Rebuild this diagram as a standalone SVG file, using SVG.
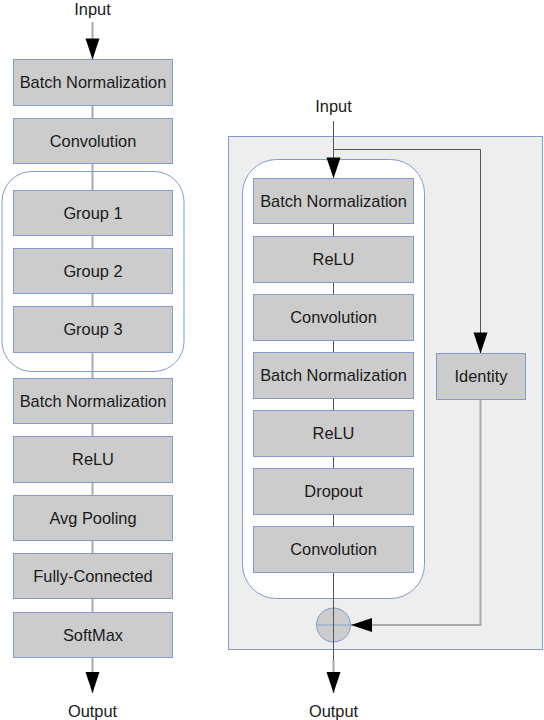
<svg xmlns="http://www.w3.org/2000/svg" width="544" height="720" viewBox="0 0 544 720">
<style>
.box{fill:#cccccc;stroke:#7f9ccb;stroke-width:1}
.cont{fill:#ffffff;stroke:#7f9ccb;stroke-width:1}
.panel{fill:#eeeeee;stroke:#7f9ccb;stroke-width:1}
.t{font-family:"Liberation Sans",Arial,sans-serif;font-size:16.4px;fill:#1a1a1a;text-anchor:middle}
.lg{fill:none;stroke:#aaaaaa;stroke-width:2}
.dk{fill:none;stroke:#555555;stroke-width:1}
</style>
<defs>
<marker id="ah" markerUnits="userSpaceOnUse" markerWidth="21" markerHeight="15" viewBox="0 0 21 15" refX="21" refY="7.5" orient="auto" overflow="visible">
<path d="M0,0.5 L21,7.5 L0,14.5 z" fill="#000000"/>
</marker>
</defs>
<rect class="panel" x="228.5" y="136.5" width="314" height="513"/>
<g id="groups-container"><rect class="cont" x="2" y="171.5" width="182" height="200" rx="30" ry="30"/></g>
<g id="block-container"><rect class="cont" x="242.5" y="159.5" width="182" height="439" rx="34" ry="34"/></g>
<g id="connectors">
<line class="lg" x1="92.5" y1="22" x2="92.5" y2="59.5" marker-end="url(#ah)"/>
<line class="lg" x1="92.5" y1="105" x2="92.5" y2="118"/>
<line class="lg" x1="92.5" y1="164" x2="92.5" y2="190"/>
<line class="lg" x1="92.5" y1="235" x2="92.5" y2="248"/>
<line class="lg" x1="92.5" y1="294" x2="92.5" y2="306"/>
<line class="lg" x1="92.5" y1="352" x2="92.5" y2="378"/>
<line class="lg" x1="92.5" y1="424" x2="92.5" y2="437"/>
<line class="lg" x1="92.5" y1="482" x2="92.5" y2="496"/>
<line class="lg" x1="92.5" y1="540" x2="92.5" y2="553"/>
<line class="lg" x1="92.5" y1="599" x2="92.5" y2="612"/>
<line class="lg" x1="92.5" y1="657" x2="92.5" y2="693" marker-end="url(#ah)"/>
<line class="dk" x1="333.5" y1="121" x2="333.5" y2="178.5" marker-end="url(#ah)"/>
<polyline class="dk" points="333.5,149.5 480.5,149.5 480.5,353.5" marker-end="url(#ah)"/>
<polyline class="lg" points="480.5,399 480.5,625 351,625" marker-end="url(#ah)"/>
<line class="dk" x1="333.5" y1="224" x2="333.5" y2="236"/>
<line class="dk" x1="333.5" y1="282" x2="333.5" y2="294"/>
<line class="dk" x1="333.5" y1="340" x2="333.5" y2="352"/>
<line class="dk" x1="333.5" y1="398" x2="333.5" y2="410"/>
<line class="dk" x1="333.5" y1="456" x2="333.5" y2="468"/>
<line class="dk" x1="333.5" y1="514" x2="333.5" y2="526"/>
</g>
<g id="sum">
<circle cx="333.5" cy="625" r="17" fill="#cccccc" stroke="#7f9ccb" stroke-width="1"/>
<line x1="316.5" y1="625" x2="350.5" y2="625" stroke="#9fb3d3" stroke-width="1.5"/>
</g>
<g id="sum-out">
<line class="dk" x1="333.5" y1="572" x2="333.5" y2="660"/>
<line class="lg" x1="333.5" y1="660" x2="333.5" y2="693" marker-end="url(#ah)"/>
</g>
<text class="t" x="92.5" y="15">Input</text>
<text class="t" x="92.5" y="717">Output</text>
<text class="t" x="333.5" y="112">Input</text>
<text class="t" x="333.5" y="717">Output</text>
<g id="l-bn1"><rect class="box" x="13.5" y="59.5" width="159" height="46"/><text class="t" x="93" y="88">Batch Normalization</text></g>
<g id="l-conv"><rect class="box" x="13.5" y="118.5" width="159" height="45"/><text class="t" x="93" y="147">Convolution</text></g>
<g id="l-g1"><rect class="box" x="13.5" y="190.5" width="159" height="45"/><text class="t" x="93" y="219">Group 1</text></g>
<g id="l-g2"><rect class="box" x="13.5" y="248.5" width="159" height="45"/><text class="t" x="93" y="277">Group 2</text></g>
<g id="l-g3"><rect class="box" x="13.5" y="306.5" width="159" height="46"/><text class="t" x="93" y="335">Group 3</text></g>
<g id="l-bn2"><rect class="box" x="13.5" y="378.5" width="159" height="45"/><text class="t" x="93" y="407">Batch Normalization</text></g>
<g id="l-relu"><rect class="box" x="13.5" y="436.5" width="159" height="46"/><text class="t" x="93" y="465">ReLU</text></g>
<g id="l-pool"><rect class="box" x="13.5" y="495.5" width="159" height="45"/><text class="t" x="93" y="524">Avg Pooling</text></g>
<g id="l-fc"><rect class="box" x="13.5" y="553.5" width="159" height="45"/><text class="t" x="93" y="582">Fully-Connected</text></g>
<g id="l-sm"><rect class="box" x="13.5" y="612.5" width="159" height="45"/><text class="t" x="93" y="641">SoftMax</text></g>
<g id="r-bn1"><rect class="box" x="253.5" y="178.5" width="160" height="45"/><text class="t" x="333.5" y="207">Batch Normalization</text></g>
<g id="r-relu1"><rect class="box" x="253.5" y="236.5" width="160" height="46"/><text class="t" x="333.5" y="265">ReLU</text></g>
<g id="r-conv1"><rect class="box" x="253.5" y="294.5" width="160" height="46"/><text class="t" x="333.5" y="323">Convolution</text></g>
<g id="r-bn2"><rect class="box" x="253.5" y="352.5" width="160" height="46"/><text class="t" x="333.5" y="381">Batch Normalization</text></g>
<g id="r-relu2"><rect class="box" x="253.5" y="410.5" width="160" height="46"/><text class="t" x="333.5" y="439">ReLU</text></g>
<g id="r-drop"><rect class="box" x="253.5" y="468.5" width="160" height="46"/><text class="t" x="333.5" y="497">Dropout</text></g>
<g id="r-conv2"><rect class="box" x="253.5" y="526.5" width="160" height="46"/><text class="t" x="333.5" y="555">Convolution</text></g>
<g id="identity"><rect class="box" x="436.5" y="353.5" width="89" height="46"/><text class="t" x="481" y="382">Identity</text></g>
</svg>
